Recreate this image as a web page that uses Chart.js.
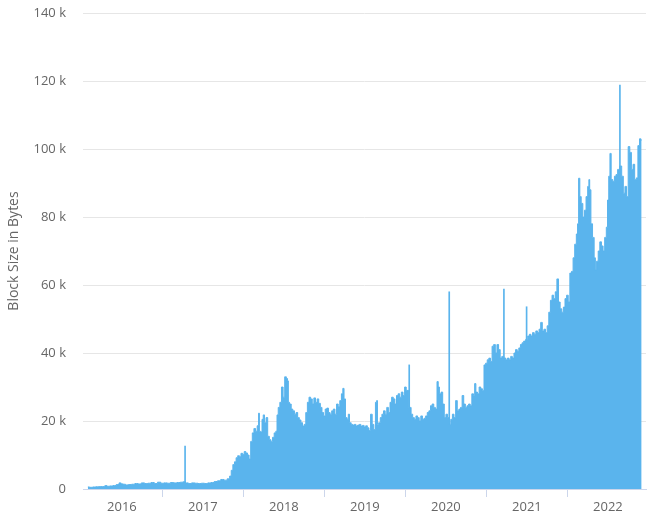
<!DOCTYPE html>
<html>
<head>
<meta charset="utf-8">
<script src="https://cdn.jsdelivr.net/npm/chart.js@4"></script>
<style>
  html, body { margin: 0; padding: 0; background: #fff; }
  #wrap { width: 652px; height: 515px; }
</style>
</head>
<body>
<div id="wrap"><canvas id="blockSizeChart" width="652" height="515"></canvas></div>
<script>
// Average block size per day (x in decimal years, y in kB)
const dates = [
  2015.58, 2015.62, 2015.66, 2015.70, 2015.74, 2015.78, 2015.80, 2015.83, 2015.87, 2015.91,
  2015.95, 2015.98, 2016.00, 2016.03, 2016.06, 2016.10, 2016.14, 2016.18, 2016.22, 2016.26,
  2016.30, 2016.34, 2016.38, 2016.42, 2016.46, 2016.50, 2016.54, 2016.58, 2016.62, 2016.66,
  2016.70, 2016.74, 2016.77, 2016.80, 2016.84, 2016.88, 2016.92, 2016.96, 2017.00, 2017.04,
  2017.08, 2017.12, 2017.16, 2017.20, 2017.24, 2017.28, 2017.32, 2017.34, 2017.36, 2017.38,
  2017.40, 2017.42, 2017.44, 2017.46, 2017.48, 2017.50, 2017.52, 2017.54, 2017.56, 2017.58,
  2017.60, 2017.62, 2017.64, 2017.66, 2017.68, 2017.695, 2017.70, 2017.72, 2017.74, 2017.75,
  2017.77, 2017.79, 2017.81, 2017.83, 2017.85, 2017.87, 2017.89, 2017.91, 2017.92, 2017.94,
  2017.96, 2017.98, 2018.00, 2018.02, 2018.04, 2018.05, 2018.06, 2018.08, 2018.10, 2018.12,
  2018.14, 2018.16, 2018.18, 2018.20, 2018.22, 2018.24, 2018.26, 2018.28, 2018.30, 2018.32,
  2018.34, 2018.36, 2018.38, 2018.40, 2018.42, 2018.44, 2018.46, 2018.48, 2018.50, 2018.52,
  2018.54, 2018.56, 2018.58, 2018.60, 2018.62, 2018.64, 2018.66, 2018.68, 2018.70, 2018.72,
  2018.735, 2018.75, 2018.77, 2018.79, 2018.80, 2018.82, 2018.84, 2018.86, 2018.88, 2018.90,
  2018.92, 2018.94, 2018.96, 2018.98, 2019.00, 2019.02, 2019.04, 2019.06, 2019.08, 2019.10,
  2019.12, 2019.14, 2019.15, 2019.16, 2019.18, 2019.20, 2019.22, 2019.24, 2019.26, 2019.28,
  2019.30, 2019.32, 2019.34, 2019.36, 2019.38, 2019.40, 2019.42, 2019.44, 2019.46, 2019.48,
  2019.50, 2019.52, 2019.56, 2019.58, 2019.60, 2019.62, 2019.64, 2019.66, 2019.68, 2019.70,
  2019.72, 2019.74, 2019.76, 2019.78, 2019.80, 2019.82, 2019.84, 2019.86, 2019.88, 2019.90,
  2019.91, 2019.93, 2019.95, 2019.97, 2019.99, 2020.01, 2020.03, 2020.05, 2020.07, 2020.09,
  2020.11, 2020.13, 2020.15, 2020.17, 2020.19, 2020.21, 2020.23, 2020.25, 2020.27, 2020.29,
  2020.31, 2020.33, 2020.35, 2020.36, 2020.38, 2020.40, 2020.42, 2020.44, 2020.46, 2020.48,
  2020.50, 2020.52, 2020.54, 2020.56, 2020.58, 2020.60, 2020.62, 2020.64, 2020.66, 2020.68,
  2020.70, 2020.73, 2020.75, 2020.77, 2020.79, 2020.81, 2020.83, 2020.85, 2020.87, 2020.89,
  2020.91, 2020.93, 2020.95, 2020.97, 2021.00, 2021.02, 2021.04, 2021.06, 2021.08, 2021.10,
  2021.12, 2021.14, 2021.16, 2021.18, 2021.20, 2021.22, 2021.24, 2021.26, 2021.28, 2021.30,
  2021.32, 2021.34, 2021.36, 2021.38, 2021.40, 2021.42, 2021.44, 2021.46, 2021.48, 2021.50,
  2021.52, 2021.54, 2021.56, 2021.58, 2021.60, 2021.62, 2021.63, 2021.646, 2021.66, 2021.68,
  2021.70, 2021.72, 2021.74, 2021.76, 2021.77, 2021.78, 2021.80, 2021.82, 2021.84, 2021.85,
  2021.87, 2021.89, 2021.91, 2021.93, 2021.95, 2021.97, 2021.99, 2022.00, 2022.02, 2022.03,
  2022.05, 2022.07, 2022.09, 2022.11, 2022.13, 2022.16, 2022.18, 2022.20, 2022.22, 2022.24,
  2022.26, 2022.28, 2022.30, 2022.32, 2022.34, 2022.36, 2022.38, 2022.40, 2022.416
];
const blockSizeK = [
  0.6, 0.5, 0.6, 0.65, 0.7, 0.7, 1.0, 0.8, 0.9, 1.0,
  1.3, 1.8, 1.5, 1.4, 1.2, 1.3, 1.4, 1.6, 1.5, 1.8,
  1.6, 1.7, 1.9, 1.6, 2.0, 1.7, 1.8, 1.7, 1.9, 1.8,
  1.9, 2.0, 2.1, 1.8, 1.6, 1.8, 1.7, 1.6, 1.7, 1.6,
  1.8, 1.9, 2.2, 2.4, 2.8, 2.6, 3.0, 3.8, 5.5, 7.2,
  8.0, 9.2, 9.8, 9.5, 10.5, 10.2, 11.0, 10.6, 10.0, 8.8,
  14.0, 16.5, 17.8, 17.0, 18.6, 22.3, 17.0, 16.8, 20.5, 21.8,
  19.5, 21.0, 15.5, 14.5, 14.0, 15.2, 16.5, 17.0, 21.8, 24.0,
  25.5, 30.0, 27.0, 33.0, 32.5, 31.8, 25.5, 25.0, 23.5, 23.0,
  22.0, 22.5, 21.0, 20.3, 19.5, 18.5, 19.0, 22.5, 25.5, 27.0,
  26.5, 25.0, 26.8, 25.5, 26.5, 25.2, 24.0, 22.5, 21.5, 23.5,
  23.8, 22.5, 22.0, 23.0, 23.5, 22.0, 25.0, 24.2, 26.0, 28.0,
  29.6, 26.5, 21.0, 20.5, 22.0, 19.5, 19.0, 18.8, 19.0, 18.5,
  18.8, 19.0, 18.5, 18.7, 18.2, 18.6, 18.0, 17.2, 22.0, 19.0,
  17.5, 25.5, 26.0, 19.0, 19.5, 21.0, 22.0, 23.0, 22.0, 24.0,
  22.5, 25.5, 27.0, 26.5, 25.0, 27.5, 28.0, 27.0, 28.5, 27.5,
  30.0, 29.0, 24.0, 22.0, 21.0, 20.5, 21.5, 21.0, 20.0, 21.5,
  20.5, 20.8, 21.5, 22.5, 23.0, 24.5, 25.0, 24.0, 23.5, 31.6,
  30.0, 28.0, 28.5, 25.0, 21.0, 22.0, 21.0, 19.0, 20.5, 22.0,
  21.0, 26.0, 23.0, 23.5, 24.0, 27.5, 25.0, 24.0, 24.5, 25.0,
  24.5, 28.0, 27.5, 31.0, 28.5, 28.0, 30.0, 29.5, 29.0, 36.5,
  37.0, 38.0, 38.5, 37.5, 42.0, 42.5, 40.0, 42.5, 41.0, 38.5,
  39.0, 38.5, 38.0, 38.5, 38.0, 39.0, 38.5, 40.0, 41.0, 40.5,
  41.5, 42.5, 43.0, 43.5, 44.0, 45.0, 45.5, 45.0, 46.0, 45.5,
  46.5, 46.0, 47.0, 49.0, 46.5, 47.0, 46.0, 48.0, 52.0, 55.5,
  57.0, 56.0, 58.0, 61.8, 55.0, 53.0, 52.0, 53.5, 56.0, 57.0,
  55.0, 63.5, 64.0, 68.0, 72.0, 75.0, 78.0, 91.4, 86.0, 84.0,
  80.0, 82.0, 86.0, 89.0, 91.0, 88.0, 78.0, 74.0, 68.0, 64.4,
  67.0, 70.0, 72.7, 71.5, 70.0, 74.0, 77.0, 85.0, 92.0, 98.7,
  91.0, 90.5, 92.0, 92.5, 94.0, 95.0, 92.0, 87.0, 89.0, 86.0,
  100.7, 99.0, 94.0, 95.5, 91.0, 91.5, 101.0, 103.0, 102.6
];

// single-day outliers, drawn as thin bars
const spikeDates = [2016.78, 2019.547, 2020.041, 2020.716, 2020.996, 2022.148];
const spikeSizeK = [12.6, 36.5, 58.0, 58.8, 53.6, 118.8];

const tickYears = [2016, 2017, 2018, 2019, 2020, 2021, 2022];

const BLUE = '#5ab4ed';
const FONT = '"Open Sans", "DejaVu Sans", sans-serif';

const mainPoints = dates.map((d, i) => ({ x: d, y: blockSizeK[i] * 1000 }));
const spikePoints = spikeDates.map((d, i) => ({ x: d, y: spikeSizeK[i] * 1000 }));

new Chart(document.getElementById('blockSizeChart').getContext('2d'), {
  type: 'line',
  data: {
    datasets: [
      {
        label: 'Block Size',
        data: mainPoints,
        borderColor: BLUE,
        backgroundColor: BLUE,
        borderWidth: 1,
        pointRadius: 0,
        fill: 'origin',
        stepped: 'middle',
        tension: 0
      },
      {
        type: 'bar',
        label: 'Spikes',
        data: spikePoints,
        backgroundColor: BLUE,
        borderWidth: 0,
        barThickness: 1
      }
    ]
  },
  options: {
    responsive: false,
    animation: false,
    events: [],
    layout: { padding: { top: 13, right: 6, left: 0, bottom: 0 } },
    plugins: { legend: { display: false }, tooltip: { enabled: false } },
    scales: {
      x: {
        type: 'linear',
        min: 2015.52,
        max: 2022.47,
        offset: false,
        afterBuildTicks: s => { s.ticks = tickYears.map(v => ({ value: v })); },
        afterFit: s => { s.height = 26; },
        grid: { drawOnChartArea: false, drawTicks: true, tickLength: 8, color: '#ccd6eb' },
        border: { color: '#ccd6eb' },
        ticks: {
          color: '#666',
          font: { family: FONT, size: 13 },
          padding: 2,
          maxRotation: 0,
          callback: v => String(v)
        }
      },
      y: {
        min: 0,
        max: 140000,
        // fixed width; drop the label overflow so the plot top stays at the padding
        afterFit: s => { s.width = 83; s.paddingTop = 0; s.paddingBottom = 0; },
        grid: { color: '#e6e6e6', drawTicks: false },
        border: { display: false },
        ticks: {
          stepSize: 20000,
          color: '#666',
          font: { family: FONT, size: 13 },
          padding: 17,
          callback: v => v === 0 ? '0' : (v / 1000) + ' k'
        },
        title: {
          display: true,
          text: 'Block Size in Bytes',
          color: '#666',
          font: { family: FONT, size: 14 },
          padding: { top: 6, bottom: 0 }
        }
      }
    }
  }
});
</script>
</body>
</html>
